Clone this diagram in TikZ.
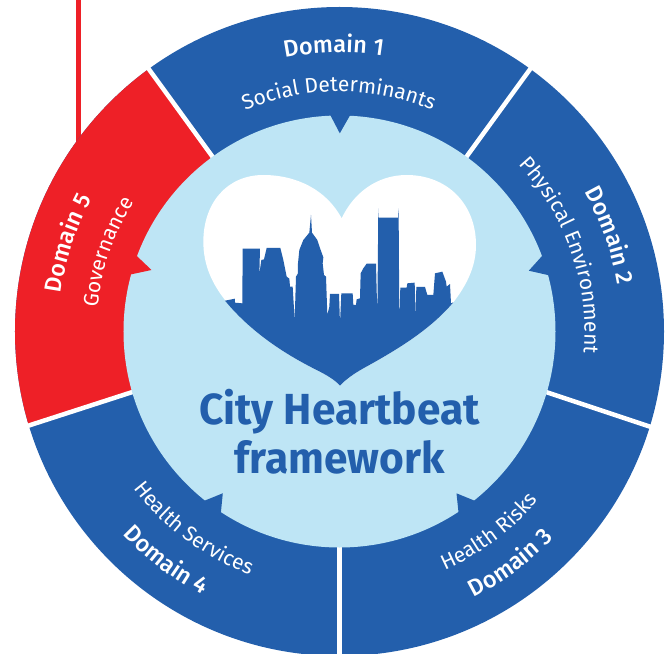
\documentclass[tikz,border=0pt]{standalone}
\usepackage{fontspec}
\setmainfont{Fira Sans}
\newfontfamily\medf{Fira Sans Medium}
\newfontfamily\ttlf[FakeStretch=0.975]{Fira Sans}
\usetikzlibrary{decorations.text}
\definecolor{cblue}{HTML}{235FAC}
\definecolor{cred}{HTML}{EE2027}
\definecolor{clight}{HTML}{BEE5F5}
\newcommand{\domf}{\fontsize{23.5}{23.5}\medf\color{white}}
\newcommand{\subf}{\fontsize{21}{21}\selectfont\color{white}}
\newcommand{\arctext}[5]{% radius, start, end, font, text
  \path[decorate,decoration={text along path,text align=center,text={|#4|#5}}]
    (#2:#1) arc[start angle=#2,end angle=#3,radius=#1];}
\begin{document}
\begin{tikzpicture}[x=1pt,y=1pt,
  gap/.style={white,line width=4.5pt},
  heartpx/.style={shift={(-149.5,161.5)},x=0.33333pt,y=-0.33333pt}]
\useasboundingbox (-339.5,-321.5) rectangle (331.5,331.5);
\coordinate (o) at (0,0);
\coordinate (g1) at (54:330);
\coordinate (g2) at (126:330);
\coordinate (i3) at (-190,-55);
\coordinate (g3) at (-340,-103.5);
\coordinate (g4) at (270:330);
\coordinate (i5) at (190,-55);
\coordinate (g5) at (340,-105);
\begin{scope}
\clip (-339.5,-321.5) rectangle (331.5,331.5);
\fill[cred] (-263,331.5) rectangle (-258.3,185);
\fill[cblue] (o) circle[radius=324.5];
\begin{scope}
\clip (o) circle[radius=324.5];
\fill[cred] (o) -- (g2) -- (-340,267) -- (g3) -- (i3) -- cycle;
\end{scope}
\draw[gap] (o) -- (g1);
\draw[gap] (o) -- (g2);
\draw[gap] (i3) -- (g3);
\draw[gap] (o) -- (g4);
\draw[gap] (i5) -- (g5);
\end{scope}
\fill[clight] (o) circle[radius=216];
% notches
\fill[cblue] (-9.5,217) -- (0.3,198.2) -- (11,217) -- cycle;
\fill[cblue] (203.7,76.8) -- (189.3,60.8) -- (211.3,55.8) -- cycle;
\fill[cblue] (137,-170) -- (117,-161.8) -- (119.2,-182.8) -- cycle;
\fill[cblue] (-137,-170) -- (-116.7,-161.8) -- (-118.8,-182.8) -- cycle;
\fill[cred] (-203,75.8) -- (-188,61.5) -- (-210,56.8) -- cycle;
% heart
\begin{scope}[heartpx]
\fill[white] (455,145) .. controls (410,60) and (320,15) .. (220,15)
  .. controls (110,15) and (40,100) .. (40,215)
  .. controls (40,290) and (70,345) .. (105,390)
  .. controls (190,495) and (300,560) .. (380,600)
  .. controls (410,615) and (435,630) .. (450,647)
  .. controls (465,630) and (490,612) .. (520,595)
  .. controls (620,540) and (720,480) .. (790,397)
  .. controls (830,345) and (858,290) .. (858,225)
  .. controls (858,100) and (770,15) .. (650,15)
  .. controls (560,15) and (490,70) .. (455,145) -- cycle;
\fill[cblue] (105,392) -- (135,386) -- (135,398) -- (157,400) -- (158,236) -- (210,236) -- (208,312) -- (214,270) -- (222,268) -- (230,234) -- (271,234) -- (280,270) -- (290,320) -- (298,326) -- (300,350) -- (308,350) -- (314,450) -- (318,320) -- (324,310) -- (324,280) -- (328,240) -- (340,210) -- (358,188) -- (363,135) -- (366,188) -- (382,210) -- (392,240) -- (400,262) -- (398,280) -- (402,315) -- (408,320) -- (412,435) -- (418,410) -- (420,372) -- (447,372) -- (450,460) -- (454,370) -- (488,370) -- (490,405) -- (498,405) -- (500,388) -- (510,385) -- (512,310) -- (520,295) -- (530,281) -- (558,281) -- (562,440) -- (565,115) -- (566,143) -- (624,143) -- (625,115) -- (626,143) -- (628,455) -- (631,353) -- (650,353) -- (652,340) -- (674,338) -- (677,440) -- (679,351) -- (705,351) -- (712,375) -- (730,375) -- (735,310) -- (757,305) -- (768,335) -- (770,350) -- (780,342) -- (783,400) -- (790,397)
  .. controls (720,480) and (620,540) .. (520,595)
  .. controls (490,612) and (465,630) .. (450,647)
  .. controls (435,630) and (410,615) .. (380,600)
  .. controls (300,560) and (190,495) .. (105,392) -- cycle;
\end{scope}
% texts
\node[text=cblue,font=\fontsize{43.5}{49}\ttlf\bfseries,align=center] (title) at (0,-100.5) {City Heartbeat\\framework};
\arctext{279}{126.2}{56.2}{\domf}{Domain 1}
\arctext{240}{130.2}{50.2}{\subf}{Social Determinants}
\arctext{282}{55.5}{-16.5}{\domf}{Domain 2}
\arctext{245}{59}{-21}{\subf}{Physical Environment}
\arctext{281}{198}{126}{\domf}{Domain 5}
\arctext{243}{199}{123}{\subf}{Governance}
\arctext{298}{270.4}{342.4}{\domf}{Domain 3}
\arctext{261}{270.7}{342.7}{\subf}{Health Risks}
\arctext{297}{196.8}{268.8}{\domf}{Domain 4}
\arctext{259}{193.5}{273.5}{\subf}{Health Services}
\end{tikzpicture}
\end{document}
